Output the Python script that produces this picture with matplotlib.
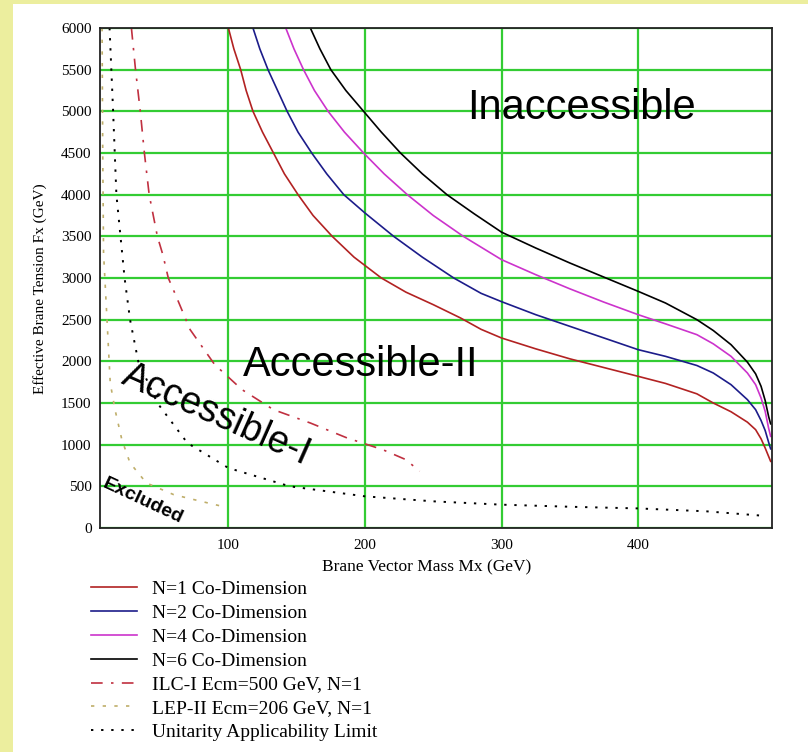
import matplotlib.pyplot as plt
from matplotlib.patches import Rectangle

# Brane tension limits vs. brane vector mass (GeV)
n1_x = [100, 104, 109, 113, 118, 125, 133, 141, 151, 162, 176, 192, 212, 230, 250, 270, 285, 300,
        325, 350, 375, 400, 420, 443, 455, 468, 480, 486, 490, 493, 495.5, 497]
n1_y = [6000, 5750, 5500, 5250, 5000, 4750, 4500, 4250, 4000, 3750, 3500, 3250, 3000, 2830, 2680,
        2520, 2384, 2280, 2150, 2030, 1925, 1820, 1735, 1610, 1500, 1395, 1270, 1180, 1070, 960, 860, 800]

n2_x = [118, 123, 129, 136, 143, 151, 161, 172, 184.5, 200, 221, 242, 265, 285, 300, 325, 350, 375,
        400, 420, 443, 455, 468, 480, 486, 490, 493, 495.5, 497]
n2_y = [6000, 5750, 5500, 5250, 5000, 4750, 4500, 4250, 4000, 3780, 3500, 3250, 3000, 2816, 2716,
        2560, 2420, 2280, 2140, 2060, 1950, 1860, 1720, 1540, 1420, 1290, 1170, 1030, 950]

n4_x = [142, 148, 155, 163, 173, 185, 199, 214, 231, 250, 272, 300, 325, 350, 375, 400, 420, 443,
        455, 468, 480, 486, 490, 493, 495.5, 497]
n4_y = [6000, 5750, 5500, 5250, 5000, 4750, 4500, 4250, 4000, 3750, 3500, 3220, 3040, 2870, 2710,
        2560, 2450, 2320, 2210, 2060, 1860, 1720, 1560, 1400, 1200, 1100]

n6_x = [160, 167, 175, 186, 199, 212, 226, 242, 260, 280, 300, 325, 350, 375, 400, 420, 443, 455,
        468, 480, 486, 490, 493, 495.5, 497]
n6_y = [6000, 5750, 5500, 5250, 5000, 4750, 4500, 4250, 4000, 3770, 3550, 3360, 3180, 3010, 2840,
        2700, 2500, 2370, 2200, 1990, 1850, 1700, 1530, 1340, 1250]

ilc_x = [29, 32, 35.5, 38.5, 42, 48, 52, 56, 61, 72, 90, 110, 133, 160, 187, 213, 230, 240]
ilc_y = [6000, 5500, 5000, 4500, 4000, 3500, 3280, 3000, 2810, 2380, 1960, 1660, 1420, 1260, 1080,
         940, 820, 680]

lep_x = [7.5, 8, 8.6, 11, 13.5, 17, 22, 28, 40, 60, 80, 98]
lep_y = [6000, 4500, 3300, 2540, 1740, 1420, 1060, 780, 540, 400, 320, 250]

uni_x = [13, 15.6, 18, 24, 28, 34, 48, 70, 100, 145, 200, 250, 300, 350, 400, 450, 493]
uni_y = [6000, 5000, 4000, 3000, 2500, 2000, 1500, 1020, 720, 500, 380, 320, 280, 255, 235, 200, 145]

x_ticks = [100, 200, 300, 400]
y_ticks = list(range(0, 6001, 500))

fig = plt.figure(figsize=(8.08, 7.52), dpi=100, facecolor="#ecee9e")
fig.patches.append(Rectangle((13 / 808, 0), 1, 748 / 752, transform=fig.transFigure,
                             facecolor="white", edgecolor="none", zorder=-10))

ax = fig.add_axes([100 / 808, 1 - 528 / 752, 672 / 808, 500 / 752])
ax.set_facecolor("white")

serif = "Liberation Serif"

ax.plot(n1_x, n1_y, color="#b22222", lw=1.2, label="N=1 Co-Dimension")
ax.plot(n2_x, n2_y, color="#1c1c8a", lw=1.2, label="N=2 Co-Dimension")
ax.plot(n4_x, n4_y, color="#cc33cc", lw=1.2, label="N=4 Co-Dimension")
ax.plot(n6_x, n6_y, color="black", lw=1.2, label="N=6 Co-Dimension")
ax.plot(ilc_x, ilc_y, color="#c03040", lw=1.2, linestyle=(0, (7, 5, 1.5, 5)),
        label="ILC-I Ecm=500 GeV, N=1")
ax.plot(lep_x, lep_y, color="#bfae6a", lw=1.2, linestyle=(0, (2, 5)),
        label="LEP-II Ecm=206 GeV, N=1")
ax.plot(uni_x, uni_y, color="black", lw=1.4, linestyle=(0, (1.2, 4)),
        label="Unitarity Applicability Limit")

ax.set_xlim(6, 498)
ax.set_ylim(0, 6000)
ax.set_xticks(x_ticks)
ax.set_yticks(y_ticks)
ax.tick_params(length=0, labelsize=11, pad=6)
ax.tick_params(axis="x", pad=8)
for lbl in ax.get_xticklabels() + ax.get_yticklabels():
    lbl.set_fontfamily(serif)

ax.grid(True, color="#33cc33", lw=1.6)
ax.set_axisbelow(True)
for s in ax.spines.values():
    s.set_linewidth(1.3)
    s.set_color("#222222")

fig.text(427 / 808, 1 - 567 / 752, "Brane Vector Mass Mx (GeV)", family=serif,
         fontsize=12.5, ha="center", va="center")
fig.text(40 / 808, 1 - 289 / 752, "Effective Brane Tension Fx (GeV)", family=serif,
         fontsize=11, ha="center", va="center", rotation=90)

# region labels
ax.text(275, 4910, "Inaccessible", fontsize=30, family="Liberation Sans",
        ha="left", va="baseline")
ax.text(111, 1824, "Accessible-II", fontsize=30, family="Liberation Sans",
        ha="left", va="baseline")
ax.text(20.5, 1744, "Accessible-I", fontsize=27, family="Liberation Sans",
        ha="left", va="baseline", rotation=-24, rotation_mode="anchor")
ax.text(7.0, 496, "Excluded", fontsize=14, family="Liberation Sans", weight="bold",
        ha="left", va="baseline", rotation=-25, rotation_mode="anchor")

fig.legend(loc="upper left", bbox_to_anchor=(73 / 808, 1 - 563 / 752), frameon=False,
           prop={"family": serif, "size": 14}, handlelength=2.4, handletextpad=0.75,
           labelspacing=0.32)

fig.savefig("out.png", dpi=100, facecolor=fig.get_facecolor())
